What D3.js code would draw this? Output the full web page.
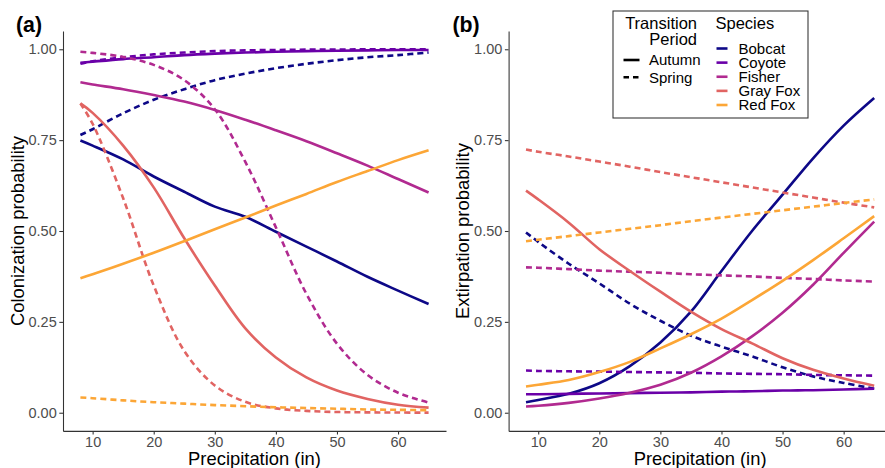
<!DOCTYPE html>
<html>
<head>
<meta charset="utf-8">
<script src="https://cdn.jsdelivr.net/npm/d3@7"></script>
<style>
  html, body { margin: 0; padding: 0; background: #ffffff; }
  svg { display: block; font-family: "Liberation Sans", Arial, sans-serif; }
</style>
</head>
<body>
<svg id="chart" width="885" height="468"></svg>
<script>
// Precipitation grid (inches) at which every curve is evaluated
const precip = [8, 10, 15, 20, 25, 30, 35, 40, 45, 50, 55, 60, 65];

const species = ["Bobcat", "Coyote", "Fisher", "Gray Fox", "Red Fox"];
const speciesColors = ["#0D0887", "#6A00A8", "#B12A90", "#E16462", "#FCA636"];
const periods = ["Autumn", "Spring"];

const xTicks = [10, 20, 30, 40, 50, 60];
const yTicks = [0, 0.25, 0.5, 0.75, 1];

// (a) Colonization probability
const colBobcatAutumn  = [0.749, 0.735, 0.697, 0.650, 0.608, 0.567, 0.539, 0.498, 0.457, 0.416, 0.374, 0.336, 0.299];
const colBobcatSpring  = [0.764, 0.780, 0.824, 0.861, 0.890, 0.915, 0.933, 0.948, 0.960, 0.970, 0.978, 0.984, 0.991];
const colCoyoteAutumn  = [0.963, 0.966, 0.973, 0.978, 0.984, 0.988, 0.991, 0.993, 0.995, 0.996, 0.997, 0.998, 0.998];
const colCoyoteSpring  = [0.960, 0.967, 0.978, 0.986, 0.991, 0.995, 0.997, 0.998, 0.999, 0.999, 1.000, 1.000, 1.000];
const colFisherAutumn  = [0.909, 0.903, 0.890, 0.874, 0.856, 0.833, 0.806, 0.777, 0.747, 0.714, 0.680, 0.643, 0.606];
const colFisherSpring  = [0.993, 0.990, 0.979, 0.957, 0.915, 0.835, 0.690, 0.510, 0.327, 0.190, 0.104, 0.055, 0.028];
const colGrayFoxAutumn = [0.851, 0.825, 0.735, 0.620, 0.480, 0.350, 0.232, 0.152, 0.097, 0.061, 0.038, 0.022, 0.014];
const colGrayFoxSpring = [0.851, 0.795, 0.590, 0.350, 0.170, 0.075, 0.030, 0.012, 0.005, 0.002, 0.001, 0.0005, 0.0002];
const colRedFoxAutumn  = [0.370, 0.381, 0.410, 0.440, 0.472, 0.505, 0.537, 0.570, 0.602, 0.635, 0.665, 0.695, 0.722];
const colRedFoxSpring  = [0.042, 0.040, 0.034, 0.029, 0.025, 0.021, 0.018, 0.015, 0.013, 0.011, 0.009, 0.008, 0.007];

// (b) Extirpation probability
const extBobcatAutumn  = [0.029, 0.035, 0.052, 0.081, 0.128, 0.193, 0.278, 0.390, 0.500, 0.600, 0.700, 0.790, 0.866];
const extBobcatSpring  = [0.496, 0.470, 0.410, 0.356, 0.300, 0.253, 0.212, 0.182, 0.155, 0.125, 0.100, 0.082, 0.066];
const extCoyoteAutumn  = [0.051, 0.051, 0.052, 0.053, 0.054, 0.055, 0.056, 0.058, 0.059, 0.061, 0.062, 0.064, 0.066];
const extCoyoteSpring  = [0.116, 0.115, 0.114, 0.113, 0.112, 0.111, 0.110, 0.108, 0.107, 0.106, 0.104, 0.103, 0.102];
const extFisherAutumn  = [0.017, 0.019, 0.027, 0.039, 0.055, 0.077, 0.110, 0.155, 0.210, 0.275, 0.352, 0.440, 0.526];
const extFisherSpring  = [0.400, 0.399, 0.395, 0.391, 0.388, 0.385, 0.381, 0.378, 0.375, 0.371, 0.368, 0.364, 0.361];
const extGrayFoxAutumn = [0.611, 0.587, 0.523, 0.450, 0.390, 0.333, 0.278, 0.230, 0.191, 0.150, 0.118, 0.094, 0.074];
const extGrayFoxSpring = [0.724, 0.718, 0.705, 0.691, 0.677, 0.662, 0.648, 0.634, 0.620, 0.606, 0.592, 0.578, 0.565];
const extRedFoxAutumn  = [0.072, 0.077, 0.090, 0.112, 0.140, 0.177, 0.216, 0.259, 0.310, 0.363, 0.420, 0.480, 0.541];
const extRedFoxSpring  = [0.472, 0.476, 0.486, 0.496, 0.506, 0.516, 0.527, 0.537, 0.547, 0.557, 0.567, 0.577, 0.587];

const colonization = [
  ["Bobcat", "Autumn", colBobcatAutumn], ["Bobcat", "Spring", colBobcatSpring],
  ["Coyote", "Autumn", colCoyoteAutumn], ["Coyote", "Spring", colCoyoteSpring],
  ["Fisher", "Autumn", colFisherAutumn], ["Fisher", "Spring", colFisherSpring],
  ["Gray Fox", "Autumn", colGrayFoxAutumn], ["Gray Fox", "Spring", colGrayFoxSpring],
  ["Red Fox", "Autumn", colRedFoxAutumn], ["Red Fox", "Spring", colRedFoxSpring]
];
const extirpation = [
  ["Bobcat", "Autumn", extBobcatAutumn], ["Bobcat", "Spring", extBobcatSpring],
  ["Coyote", "Autumn", extCoyoteAutumn], ["Coyote", "Spring", extCoyoteSpring],
  ["Fisher", "Autumn", extFisherAutumn], ["Fisher", "Spring", extFisherSpring],
  ["Gray Fox", "Autumn", extGrayFoxAutumn], ["Gray Fox", "Spring", extGrayFoxSpring],
  ["Red Fox", "Autumn", extRedFoxAutumn], ["Red Fox", "Spring", extRedFoxSpring]
];

const color = d3.scaleOrdinal().domain(species).range(speciesColors);
const dashFor = p => (p === "Spring" ? "6,4" : null);

const svg = d3.select("#chart");

// Shared scales: x expanded 5% beyond the data range, y from -0.05 to 1.05
const xDomain = [5.15, 67.85];
const y = d3.scaleLinear().domain([-0.05, 1.05]).range([430.9, 31.1]);

function drawPanel(opts) {
  const x = d3.scaleLinear().domain(xDomain).range([opts.left, opts.left + 383]);
  const g = svg.append("g");

  const line = d3.line()
    .x((d, i) => x(precip[i]))
    .y(d => y(d))
    .curve(d3.curveCatmullRom.alpha(0.5));

  g.selectAll("path.series")
    .data(opts.series)
    .join("path")
    .attr("class", "series")
    .attr("d", d => line(d[2]))
    .attr("fill", "none")
    .attr("stroke", d => color(d[0]))
    .attr("stroke-width", 2.6)
    .attr("stroke-dasharray", d => dashFor(d[1]));

  // y axis
  const yAxis = g.append("g")
    .attr("transform", `translate(${opts.left},0)`)
    .call(d3.axisLeft(y).tickValues(yTicks).tickFormat(d3.format(".2f"))
      .tickSize(3.7).tickSizeOuter(0).tickPadding(2.6));
  // x axis
  const xAxis = g.append("g")
    .attr("transform", "translate(0,430.9)")
    .call(d3.axisBottom(x).tickValues(xTicks).tickFormat(d3.format("d"))
      .tickSize(3.7).tickSizeOuter(0).tickPadding(2.2));

  [yAxis, xAxis].forEach(a => {
    a.select(".domain").attr("stroke", "#333333").attr("stroke-width", 1.07);
    a.selectAll(".tick line").attr("stroke", "#333333").attr("stroke-width", 1.07);
    a.selectAll(".tick text").attr("fill", "#4D4D4D").style("font-size", "14.5px");
  });

  // axis titles
  g.append("text")
    .attr("x", opts.left + 191.5).attr("y", 465)
    .attr("text-anchor", "middle")
    .style("font-size", "18.4px").attr("fill", "#000")
    .text("Precipitation (in)");
  g.append("text")
    .attr("transform", `translate(${opts.yTitleX},231) rotate(-90)`)
    .attr("text-anchor", "middle")
    .style("font-size", "18.4px").attr("fill", "#000")
    .text(opts.yTitle);

  // panel tag
  g.append("text")
    .attr("x", opts.tagX).attr("y", 32)
    .style("font-size", "21.3px").style("font-weight", "bold").attr("fill", "#000")
    .text(opts.tag);
}

drawPanel({ left: 63, series: colonization, yTitle: "Colonization probability", yTitleX: 23.5, tag: "(a)", tagX: 16 });
drawPanel({ left: 508.6, series: extirpation, yTitle: "Extirpation probability", yTitleX: 468.5, tag: "(b)", tagX: 452.5 });

// Legend
const legend = svg.append("g");
legend.append("rect")
  .attr("x", 613).attr("y", 11).attr("width", 195).attr("height", 107)
  .attr("fill", "#fff").attr("stroke", "#333333").attr("stroke-width", 1.07);

legend.append("text").attr("x", 697).attr("y", 29).attr("text-anchor", "end")
  .style("font-size", "16.5px").text("Transition");
legend.append("text").attr("x", 697).attr("y", 45).attr("text-anchor", "end")
  .style("font-size", "16.5px").text("Period");

const periodY = d3.scalePoint().domain(periods).range([60, 77.3]);
periods.forEach(p => {
  legend.append("line")
    .attr("x1", 623.5).attr("x2", 639.5)
    .attr("y1", periodY(p)).attr("y2", periodY(p))
    .attr("stroke", "#000").attr("stroke-width", 2.6)
    .attr("stroke-dasharray", p === "Spring" ? "5.5,4" : null);
  legend.append("text").attr("x", 649).attr("y", periodY(p)).attr("dy", "0.36em")
    .style("font-size", "15px").text(p);
});

legend.append("text").attr("x", 715.5).attr("y", 28.5)
  .style("font-size", "16.5px").text("Species");

const speciesY = d3.scalePoint().domain(species).range([48.5, 105]);
species.forEach(s => {
  legend.append("line")
    .attr("x1", 716.5).attr("x2", 727.5)
    .attr("y1", speciesY(s)).attr("y2", speciesY(s))
    .attr("stroke", color(s)).attr("stroke-width", 2.6);
  legend.append("text").attr("x", 738.5).attr("y", speciesY(s)).attr("dy", "0.36em")
    .style("font-size", "15px").text(s);
});
</script>
</body>
</html>
